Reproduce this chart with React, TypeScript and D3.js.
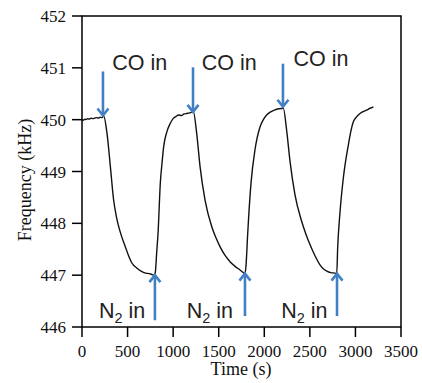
import React from "react";
import * as d3 from "d3";

const timeS = [0,15,30,45,60,80,100,120,140,160,180,200,220,238,
  274,311,347,375,402,440,475,510,549,600,658,700,740,770,786,795,
  804,820,834,859,880,896,930,969,1000,1030,1061,1090,1120,1150,1180,1207,1221,
  1258,1295,1350,1423,1470,1514,1570,1624,1680,1734,1770,1789,
  1800,1818,1854,1898,1953,1990,2026,2070,2117,2160,2209,
  2245,2282,2337,2410,2455,2501,2555,2611,2650,2685,2730,2776,2795,
  2805,2831,2867,2922,2950,2977,3010,3050,3090,3130,3160,3180,3197];
const freqKHz = [450.00,449.99,450.01,450.00,450.02,450.01,450.03,450.02,450.03,450.04,450.03,450.05,450.04,450.07,
  449.74,449.10,448.45,448.15,447.94,447.72,447.55,447.38,447.23,447.14,447.07,447.04,447.03,447.01,447.00,447.01,
  447.05,447.45,447.80,448.77,449.20,449.48,449.76,449.93,450.02,450.06,450.09,450.08,450.11,450.12,450.13,450.15,450.16,
  449.74,449.10,448.45,447.94,447.72,447.55,447.38,447.26,447.17,447.10,447.05,447.03,
  447.20,447.80,448.77,449.42,449.86,450.00,450.09,450.15,450.19,450.21,450.22,
  449.80,449.20,448.55,448.04,447.80,447.59,447.38,447.20,447.12,447.08,447.05,447.04,447.03,
  447.52,448.22,448.87,449.51,449.78,449.96,450.05,450.12,450.16,450.19,450.22,450.23,450.25];

const xTicks = [0,500,1000,1500,2000,2500,3000,3500];
const yTicks = [446,447,448,449,450,451,452];

// annotations (data coordinates)
const coTimes = [230, 1218, 2205];
const coTips = [450.08, 450.15, 450.25];
const coTops = [450.93, 451.01, 451.08];
const coLabelTimes = [331, 1315, 2320];
const coLabelFreq = [450.96, 450.96, 451.03];
const n2Times = [800, 1788, 2798];
const n2Tips = [447.0, 447.03, 447.03];
const n2Bottoms = [446.13, 446.21, 446.21];
const n2LabelTimes = [186, 1148, 2185];
const n2LabelFreq = [446.18, 446.18, 446.18];

const W = 422, H = 383;
const L = 82, R = 401, T = 16, B = 327;
const blue = "#4280c4";

export default function App() {
  const x = d3.scaleLinear().domain([0, 3500]).range([L, R]);
  const y = d3.scaleLinear().domain([446, 452]).range([B, T]);
  const pts: [number, number][] = timeS.map((t, i) => [t, freqKHz[i]]);
  const line = d3.line<[number, number]>().x(d => x(d[0])).y(d => y(d[1])).curve(d3.curveMonotoneX);
  const serif = "'Liberation Serif', 'Times New Roman', serif";
  const sans = "'Liberation Sans', Arial, sans-serif";
  return (
    <svg width={W} height={H} style={{ position: "absolute", left: 0, top: 0 }}>
      <rect x={0} y={0} width={W} height={H} fill="#fff" />
      <rect x={L} y={T} width={R - L} height={B - T} fill="none" stroke="#000" strokeWidth={1.5} />
      {xTicks.map(t => (
        <g key={"x" + t}>
          <line x1={x(t)} x2={x(t)} y1={B} y2={B + 10} stroke="#000" strokeWidth={1.5} />
          <text x={x(t)} y={357} textAnchor="middle" fontFamily={serif} fontSize={17} fill="#111">{t}</text>
        </g>
      ))}
      {yTicks.map(v => (
        <g key={"y" + v}>
          <line x1={L - 10} x2={L} y1={y(v)} y2={y(v)} stroke="#000" strokeWidth={1.5} />
          <text x={66} y={y(v) + 6} textAnchor="end" fontFamily={serif} fontSize={17} fill="#111">{v}</text>
        </g>
      ))}
      <text x={241} y={375} textAnchor="middle" fontFamily={serif} fontSize={18} fill="#111">Time (s)</text>
      <text transform={`translate(31,180) rotate(-90)`} textAnchor="middle" fontFamily={serif} fontSize={18} fill="#111">Frequency (kHz)</text>
      <path d={line(pts) || ""} fill="none" stroke="#111" strokeWidth={1.4} strokeLinejoin="round" />
      {coTimes.map((t, i) => {
        const cx = x(t), tip = y(coTips[i]), top = y(coTops[i]);
        return (
          <g key={"co" + i}>
            <line x1={cx} x2={cx} y1={top} y2={tip - 1} stroke={blue} strokeWidth={2.6} />
            <polyline points={`${cx - 5.5},${tip - 7} ${cx},${tip} ${cx + 5.5},${tip - 7}`} fill="none" stroke={blue} strokeWidth={2.6} />
            <text x={x(coLabelTimes[i])} y={y(coLabelFreq[i])} fontFamily={sans} fontSize={21.5} fill="#222">CO in</text>
          </g>
        );
      })}
      {n2Times.map((t, i) => {
        const cx = x(t), tip = y(n2Tips[i]), bot = y(n2Bottoms[i]);
        return (
          <g key={"n2" + i}>
            <line x1={cx} x2={cx} y1={bot} y2={tip + 1} stroke={blue} strokeWidth={2.6} />
            <polyline points={`${cx - 5.5},${tip + 7} ${cx},${tip} ${cx + 5.5},${tip + 7}`} fill="none" stroke={blue} strokeWidth={2.6} />
            <text x={x(n2LabelTimes[i])} y={y(n2LabelFreq[i])} fontFamily={sans} fontSize={21.5} fill="#222">
              N<tspan fontSize={14.5} dy={5}>2</tspan><tspan dy={-5}> in</tspan>
            </text>
          </g>
        );
      })}
    </svg>
  );
}
